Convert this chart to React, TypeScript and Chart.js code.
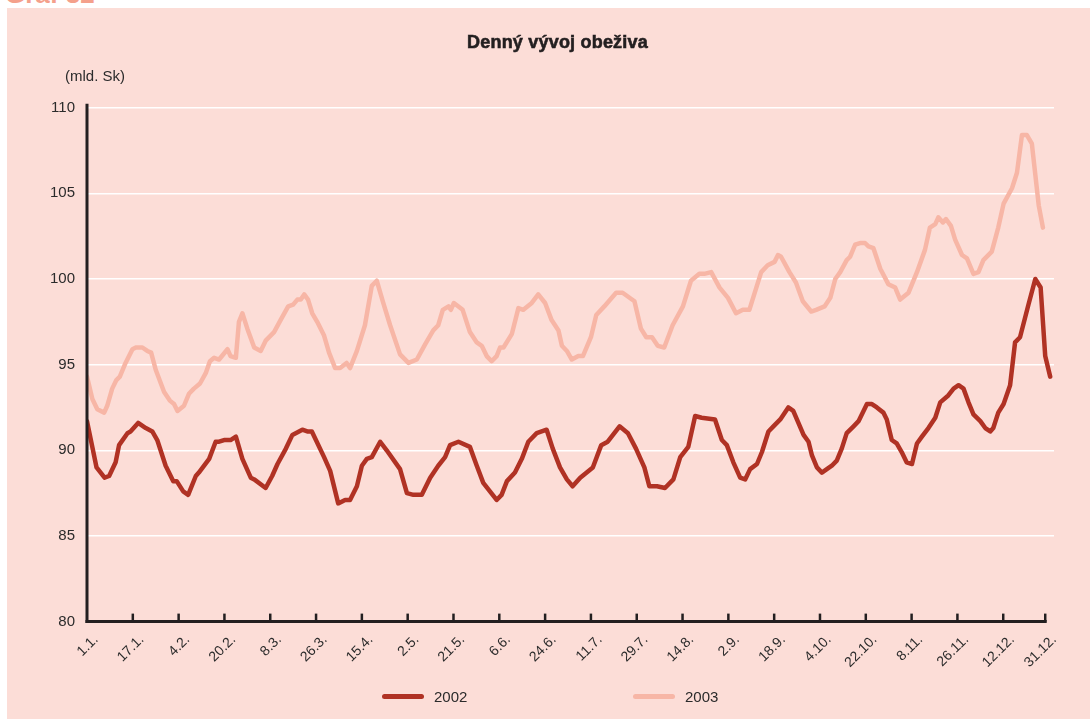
import React, { useEffect, useRef } from "react";
import { Chart, registerables } from "chart.js";

Chart.register(...registerables);

// X-axis tick labels (working-day index of each tick)
const tickLabels = ["1.1.", "17.1.", "4.2.", "20.2.", "8.3.", "26.3.", "15.4.", "2.5.", "21.5.", "6.6.", "24.6.", "11.7.", "29.7.", "14.8.", "2.9.", "18.9.", "4.10.", "22.10.", "8.11.", "26.11.", "12.12.", "31.12."];
const tickDays = [0, 12, 24, 36, 48, 60, 72, 84, 96, 108, 120, 132, 144, 156, 168, 180, 192, 204, 216, 228, 240, 251];

// 2002 series (working-day index, bn SKK)
const days2002 = [0, 2.5, 4.6, 5.8, 7.5, 8.4, 10.6, 11.4, 13.4, 15.4, 17.1, 18.4, 20.6, 22.6, 23.5, 25.2, 26.5, 28.5, 29.3, 32.0, 33.7, 34.6, 35.9, 37.6, 39.0, 40.7, 42.9, 43.8, 46.8, 48.5, 49.9, 52.1, 53.8, 56.4, 57.7, 58.9, 62.1, 63.7, 65.8, 67.6, 68.9, 70.7, 72.0, 73.3, 74.6, 76.8, 78.5, 82.0, 83.8, 85.5, 87.7, 89.9, 92.0, 93.8, 95.1, 97.3, 100.3, 102.1, 103.8, 107.3, 108.6, 110.0, 112.1, 113.9, 115.6, 117.8, 120.4, 122.0, 123.9, 125.7, 127.2, 129.2, 132.5, 134.7, 136.4, 139.5, 141.7, 143.8, 146.0, 147.3, 149.3, 151.4, 153.6, 155.4, 157.5, 159.3, 161.0, 164.5, 166.3, 167.6, 169.3, 171.1, 172.4, 173.7, 175.5, 176.8, 178.5, 179.8, 181.6, 183.7, 185.0, 187.7, 189.0, 189.9, 191.2, 192.5, 193.8, 195.1, 196.4, 197.7, 199.0, 200.8, 202.1, 204.3, 205.6, 206.9, 208.6, 209.5, 210.8, 212.1, 213.4, 214.7, 216.1, 217.4, 218.7, 220.4, 222.2, 223.5, 225.6, 227.0, 228.3, 229.6, 230.9, 232.2, 234.0, 235.3, 236.6, 237.4, 238.7, 240.1, 241.8, 243.1, 244.4, 246.6, 248.4, 249.8, 251.0, 252.3];
const values2002 = [91.7, 89.0, 88.4, 88.5, 89.3, 90.3, 91.0, 91.1, 91.6, 91.3, 91.1, 90.6, 89.1, 88.2, 88.2, 87.6, 87.4, 88.5, 88.7, 89.5, 90.5, 90.5, 90.6, 90.6, 90.8, 89.5, 88.4, 88.3, 87.8, 88.5, 89.2, 90.1, 90.9, 91.2, 91.1, 91.1, 89.6, 88.8, 86.9, 87.1, 87.1, 87.9, 89.1, 89.5, 89.6, 90.5, 90.0, 88.9, 87.5, 87.4, 87.4, 88.4, 89.1, 89.6, 90.3, 90.5, 90.2, 89.1, 88.1, 87.1, 87.4, 88.2, 88.7, 89.5, 90.5, 91.0, 91.2, 90.1, 89.0, 88.3, 87.9, 88.4, 89.0, 90.3, 90.5, 91.4, 91.0, 90.1, 89.0, 87.9, 87.9, 87.8, 88.3, 89.6, 90.2, 92.0, 91.9, 91.8, 90.6, 90.3, 89.3, 88.4, 88.3, 88.9, 89.2, 89.9, 91.1, 91.4, 91.8, 92.5, 92.3, 90.9, 90.5, 89.7, 89.0, 88.7, 88.9, 89.1, 89.4, 90.1, 91.0, 91.4, 91.7, 92.7, 92.7, 92.5, 92.2, 91.8, 90.6, 90.4, 89.9, 89.3, 89.2, 90.4, 90.8, 91.3, 91.9, 92.8, 93.2, 93.6, 93.8, 93.6, 92.8, 92.1, 91.7, 91.3, 91.1, 91.3, 92.2, 92.7, 93.8, 96.3, 96.6, 98.5, 100.0, 99.5, 95.5, 94.3];

// 2003 series (working-day index, bn SKK)
const days2003 = [0, 1.4, 2.7, 4.5, 5.3, 6.6, 7.7, 8.6, 10.1, 11.9, 12.8, 14.5, 15.8, 16.8, 18.0, 20.2, 21.7, 22.8, 23.7, 25.4, 26.7, 28.0, 29.6, 31.1, 32.2, 33.3, 34.6, 36.8, 37.6, 39.0, 39.8, 40.7, 42.0, 43.8, 45.5, 46.8, 49.0, 50.7, 52.7, 54.0, 55.1, 56.0, 56.9, 57.9, 59.0, 60.3, 62.1, 63.4, 65.0, 66.3, 68.0, 68.9, 70.7, 72.8, 74.6, 75.9, 77.6, 79.4, 82.0, 84.2, 86.4, 88.6, 90.7, 92.0, 93.2, 94.7, 95.3, 96.1, 98.4, 100.3, 102.1, 103.4, 104.7, 106.0, 107.3, 108.2, 109.1, 111.3, 113.0, 114.3, 116.5, 118.2, 120.0, 121.7, 123.5, 124.4, 125.7, 127.0, 128.7, 129.9, 132.0, 133.4, 135.5, 138.6, 140.3, 143.4, 145.1, 146.5, 148.0, 149.5, 151.2, 153.4, 156.1, 158.2, 160.4, 161.7, 163.5, 165.7, 167.9, 170.0, 171.8, 173.5, 176.6, 178.3, 180.1, 181.0, 181.8, 184.0, 185.7, 187.5, 189.7, 191.0, 193.2, 194.7, 196.0, 197.3, 199.0, 199.9, 201.2, 202.5, 203.8, 204.7, 206.0, 207.8, 209.9, 211.7, 213.0, 215.2, 217.4, 219.5, 220.8, 222.2, 223.0, 224.2, 225.0, 226.3, 227.4, 229.2, 230.5, 232.2, 233.5, 234.8, 237.0, 238.7, 240.1, 242.3, 243.6, 244.9, 246.2, 247.5, 249.3, 250.4];
const values2003 = [94.3, 93.0, 92.4, 92.2, 92.6, 93.6, 94.1, 94.3, 95.1, 95.9, 96.0, 96.0, 95.8, 95.7, 94.7, 93.4, 92.9, 92.7, 92.3, 92.6, 93.3, 93.6, 93.9, 94.5, 95.2, 95.4, 95.3, 95.9, 95.5, 95.4, 97.5, 98.0, 97.1, 96.0, 95.8, 96.4, 96.9, 97.6, 98.4, 98.5, 98.8, 98.8, 99.1, 98.8, 98.0, 97.5, 96.7, 95.7, 94.8, 94.8, 95.1, 94.8, 95.8, 97.3, 99.6, 99.9, 98.6, 97.3, 95.6, 95.1, 95.3, 96.2, 97.0, 97.3, 98.2, 98.4, 98.2, 98.6, 98.2, 96.9, 96.3, 96.1, 95.5, 95.2, 95.5, 96.0, 96.0, 96.8, 98.3, 98.2, 98.6, 99.1, 98.6, 97.6, 97.0, 96.1, 95.8, 95.3, 95.5, 95.5, 96.6, 97.9, 98.4, 99.2, 99.2, 98.7, 97.1, 96.6, 96.6, 96.1, 96.0, 97.3, 98.4, 99.9, 100.3, 100.3, 100.4, 99.5, 98.9, 98.0, 98.2, 98.2, 100.4, 100.8, 101.0, 101.4, 101.3, 100.4, 99.8, 98.7, 98.1, 98.2, 98.4, 98.9, 100.0, 100.4, 101.1, 101.3, 102.0, 102.1, 102.1, 101.9, 101.8, 100.6, 99.7, 99.5, 98.8, 99.2, 100.4, 101.7, 103.0, 103.2, 103.6, 103.3, 103.5, 103.1, 102.3, 101.4, 101.2, 100.3, 100.4, 101.1, 101.6, 103.0, 104.4, 105.3, 106.2, 108.4, 108.4, 107.9, 104.3, 103.0];

const seriesNames = ["2002", "2003"];
const yTicks = { min: 80, max: 110, step: 5 };

const PINK = "#fcddd7";
const DARK = "#b03224";
const LIGHT = "#f7b6a6";
const AXIS = "#231f20";
const TEXT = "#2b2b2b";
const FONT = '"Liberation Sans", Arial, Helvetica, sans-serif';

const axesPlugin = {
  id: "customAxes",
  afterDatasetsDraw(chart: any) {
    const { ctx, chartArea, scales } = chart;
    const x = scales.x;
    ctx.save();
    ctx.strokeStyle = AXIS;
    ctx.lineCap = "butt";
    ctx.lineWidth = 3;
    ctx.beginPath();
    ctx.moveTo(chartArea.left, chartArea.top - 4);
    ctx.lineTo(chartArea.left, chartArea.bottom + 1.5);
    ctx.stroke();
    const xEnd = x.getPixelForValue(tickDays[tickDays.length - 1]);
    ctx.beginPath();
    ctx.moveTo(chartArea.left - 1.5, chartArea.bottom);
    ctx.lineTo(xEnd + 1.5, chartArea.bottom);
    ctx.stroke();
    ctx.lineWidth = 2.5;
    for (const d of tickDays.slice(1)) {
      const px = x.getPixelForValue(d);
      ctx.beginPath();
      ctx.moveTo(px, chartArea.bottom - 8);
      ctx.lineTo(px, chartArea.bottom);
      ctx.stroke();
    }
    ctx.restore();
  },
};

export default function App() {
  const ref = useRef<HTMLCanvasElement>(null);

  useEffect(() => {
    const canvas = ref.current!;
    const chart = new Chart(canvas, {
      type: "line",
      data: {
        datasets: [
          {
            label: seriesNames[0],
            data: days2002.map((d, i) => ({ x: d, y: values2002[i] })),
            borderColor: DARK,
            borderWidth: 4.5,
            pointRadius: 0,
            tension: 0,
            borderJoinStyle: "round",
            borderCapStyle: "round",
          },
          {
            label: seriesNames[1],
            data: days2003.map((d, i) => ({ x: d, y: values2003[i] })),
            borderColor: LIGHT,
            borderWidth: 4.5,
            pointRadius: 0,
            tension: 0,
            borderJoinStyle: "round",
            borderCapStyle: "round",
          },
        ],
      },
      options: {
        animation: false,
        responsive: false,
        maintainAspectRatio: false,
        layout: { padding: { top: 99.7, right: 36, left: 0, bottom: 0 } },
        plugins: {
          legend: { display: false },
          tooltip: { enabled: false },
          title: { display: false },
        },
        scales: {
          x: {
            type: "linear",
            min: 0,
            max: 253.3,
            afterBuildTicks: (s: any) => {
              s.ticks = tickDays.map((v) => ({ value: v }));
            },
            afterFit: (s: any) => {
              s.height = 97.4;
            },
            grid: { display: false, drawTicks: false },
            border: { display: false },
            ticks: {
              autoSkip: false,
              minRotation: 45,
              maxRotation: 45,
              labelOffset: 9,
              padding: 10,
              color: TEXT,
              font: { family: FONT, size: 14 },
              callback: (_v: any, i: number) => tickLabels[i],
            },
          },
          y: {
            min: yTicks.min,
            max: yTicks.max,
            afterFit: (s: any) => {
              s.width = 80;
            },
            grid: {
              color: (c: any) => (c.tick && c.tick.value === yTicks.min ? "rgba(0,0,0,0)" : "#ffffff"),
              lineWidth: 1.5,
              drawTicks: false,
            },
            border: { display: false },
            ticks: {
              stepSize: yTicks.step,
              padding: 12,
              color: TEXT,
              font: { family: FONT, size: 15 },
            },
          },
        },
      },
      plugins: [axesPlugin],
    } as any);
    return () => chart.destroy();
  }, []);

  return (
    <div
      style={{
        position: "absolute",
        left: 0,
        top: 0,
        width: 1090,
        height: 719,
        overflow: "hidden",
        background: "#ffffff",
        fontFamily: FONT,
      }}
    >
      <div
        style={{
          position: "absolute",
          left: 5,
          top: -19,
          fontSize: 26,
          lineHeight: "26px",
          fontWeight: 700,
          color: "#f4a08b",
          whiteSpace: "nowrap",
        }}
      >
        Graf 32
      </div>
      <div style={{ position: "absolute", left: 7, top: 8, width: 1083, height: 711, background: PINK }}>
        <canvas ref={ref} width={1083} height={711} style={{ position: "absolute", left: 0, top: 0, width: 1083, height: 711 }} />
        <div
          style={{
            position: "absolute",
            left: 250.5,
            width: 600,
            top: 24.5,
            textAlign: "center",
            fontSize: 18,
            lineHeight: "18px",
            fontWeight: 700,
            letterSpacing: 0.2,
            WebkitTextStroke: "0.6px #231f20",
            color: AXIS,
            whiteSpace: "nowrap",
          }}
        >
          Denný vývoj obeživa
        </div>
        <div style={{ position: "absolute", left: 58, top: 60, fontSize: 15, lineHeight: "15px", color: TEXT, whiteSpace: "nowrap" }}>
          (mld. Sk)
        </div>
        <div style={{ position: "absolute", left: 375, top: 685.5, width: 42, height: 5, borderRadius: 3, background: DARK }} />
        <div style={{ position: "absolute", left: 427, top: 681, fontSize: 15, lineHeight: "15px", color: TEXT }}>{seriesNames[0]}</div>
        <div style={{ position: "absolute", left: 625.7, top: 685.5, width: 42, height: 5, borderRadius: 3, background: LIGHT }} />
        <div style={{ position: "absolute", left: 678, top: 681, fontSize: 15, lineHeight: "15px", color: TEXT }}>{seriesNames[1]}</div>
      </div>
    </div>
  );
}
